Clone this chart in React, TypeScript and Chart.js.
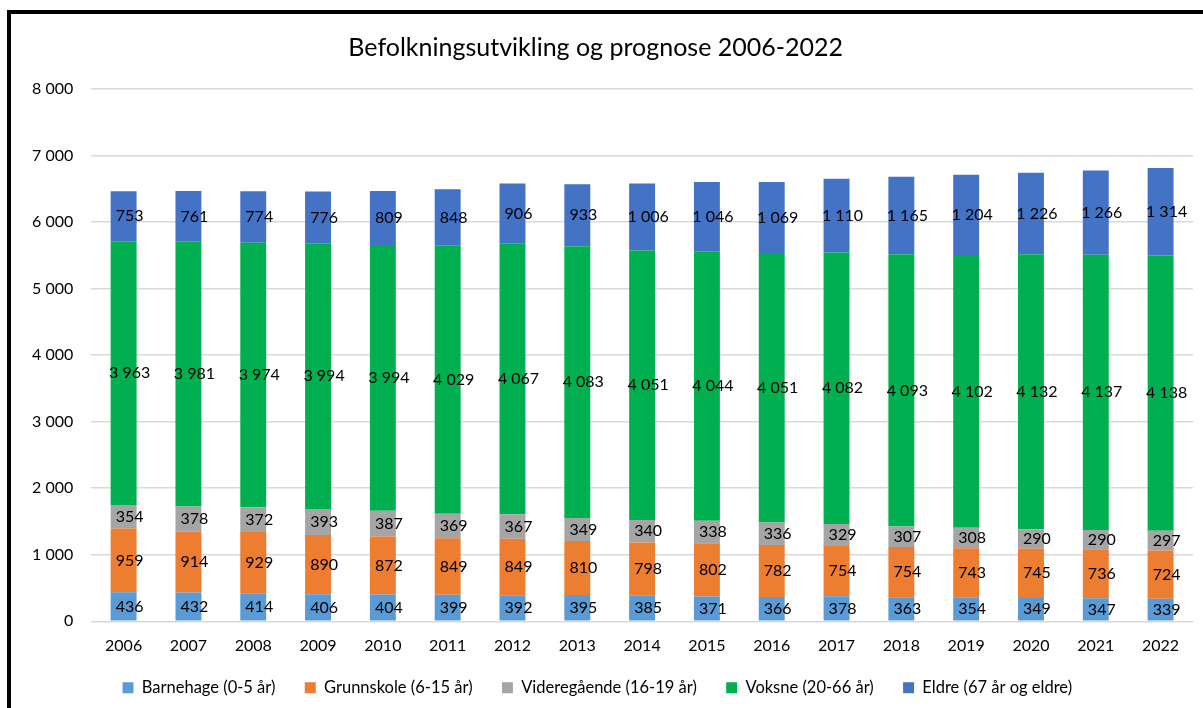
import React, { useEffect, useRef } from "react";
import { Chart, registerables } from "chart.js";

Chart.register(...registerables);

const years = ["2006","2007","2008","2009","2010","2011","2012","2013","2014","2015","2016","2017","2018","2019","2020","2021","2022"];
const barnehage = [436,432,414,406,404,399,392,395,385,371,366,378,363,354,349,347,339];
const grunnskole = [959,914,929,890,872,849,849,810,798,802,782,754,754,743,745,736,724];
const videregaende = [354,378,372,393,387,369,367,349,340,338,336,329,307,308,290,290,297];
const voksne = [3963,3981,3974,3994,3994,4029,4067,4083,4051,4044,4051,4082,4093,4102,4132,4137,4138];
const eldre = [753,761,774,776,809,848,906,933,1006,1046,1069,1110,1165,1204,1226,1266,1314];

const seriesNames = ["Barnehage (0-5 år)", "Grunnskole (6-15 år)", "Videregående (16-19 år)", "Voksne (20-66 år)", "Eldre (67 år og eldre)"];
const seriesColors = ["#5B9BD5", "#ED7D31", "#A5A5A5", "#00B050", "#4472C4"];

const fmt = (v: number) => {
  const s = Math.round(v).toString();
  return s.replace(/\B(?=(\d{3})+(?!\d))/g, " ");
};

const FONT = "Lato, 'Noto Sans', sans-serif";

const labelPlugin = {
  id: "segLabels",
  afterDatasetsDraw(chart: any) {
    const ctx = chart.ctx;
    ctx.save();
    ctx.font = `16px ${FONT}`;
    ctx.fillStyle = "#000";
    ctx.textAlign = "center";
    ctx.textBaseline = "middle";
    chart.data.datasets.forEach((ds: any, i: number) => {
      const meta = chart.getDatasetMeta(i);
      meta.data.forEach((el: any, j: number) => {
        const y = (el.y + el.base) / 2;
        ctx.fillText(fmt(ds.data[j]), el.x + 6, y);
      });
    });
    ctx.restore();
  },
};

export default function App() {
  const ref = useRef<HTMLCanvasElement>(null);
  useEffect(() => {
    if (!ref.current) return;
    const all = [barnehage, grunnskole, videregaende, voksne, eldre];
    const chart = new Chart(ref.current, {
      type: "bar",
      data: {
        labels: years,
        datasets: all.map((d, i) => ({
          label: seriesNames[i],
          data: d,
          backgroundColor: seriesColors[i],
          borderWidth: 0,
          categoryPercentage: 1,
          barPercentage: 0.4,
        })),
      },
      options: {
        animation: false,
        responsive: false,
        maintainAspectRatio: false,
        layout: { padding: { left: 3, right: 10, top: 8, bottom: 2 } },
        plugins: {
          title: {
            display: true,
            text: "Befolkningsutvikling og prognose 2006-2022\u2002\u2009",
            color: "#000",
            font: { family: FONT, size: 25, weight: "normal" },
            padding: { top: 11, bottom: 26 },
          },
          legend: {
            position: "bottom",
            labels: {
              color: "#000",
              font: { family: FONT, size: 16.5 },
              boxWidth: 11,
              boxHeight: 11,
              padding: 17,
              generateLabels: (c: any) => {
                const base = Chart.defaults.plugins.legend.labels.generateLabels(c);
                return base.map((l: any) => ({ ...l, text: l.text + "\u2003" }));
              },
            },
          },
          tooltip: { enabled: false },
        },
        scales: {
          x: {
            stacked: true,
            grid: { display: false },
            border: { display: false },
            ticks: { color: "#000", font: { family: FONT, size: 16 }, padding: 7 },
          },
          y: {
            stacked: true,
            min: 0,
            max: 8000,
            grid: { color: "#D9D9D9", lineWidth: 1.5, drawTicks: false },
            border: { display: false },
            ticks: {
              stepSize: 1000,
              color: "#000",
              font: { family: FONT, size: 16 },
              padding: 18,
              callback: (v: any) => fmt(Number(v)),
            },
          },
        },
      },
      plugins: [labelPlugin],
    });
    return () => chart.destroy();
  }, []);
  return (
    <div
      style={{
        position: "fixed",
        left: 7,
        top: 10,
        right: 0,
        bottom: 0,
        borderLeft: "4px solid #000",
        borderTop: "4px solid #000",
        background: "#fff",
        overflow: "hidden",
      }}
    >
      <canvas ref={ref} width={1192} height={694} style={{ display: "block" }} />
    </div>
  );
}
